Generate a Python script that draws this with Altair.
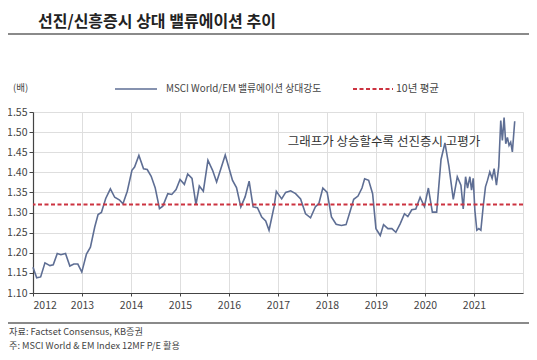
import altair as alt
import pandas as pd

# ---- data ----
years = [
    2012.00, 2012.075, 2012.156, 2012.244, 2012.346, 2012.413, 2012.495, 2012.569, 2012.664, 2012.752,
    2012.833, 2012.915, 2012.996, 2013.091, 2013.172, 2013.260, 2013.328, 2013.396, 2013.484, 2013.579,
    2013.667, 2013.768, 2013.836, 2013.924, 2014.019, 2014.073, 2014.161, 2014.256, 2014.331, 2014.412,
    2014.493, 2014.581, 2014.649, 2014.751, 2014.832, 2014.920, 2015.001, 2015.089, 2015.157, 2015.245,
    2015.326, 2015.394, 2015.476, 2015.570, 2015.665, 2015.747, 2015.834, 2015.923, 2016.004, 2016.072,
    2016.153, 2016.241, 2016.329, 2016.411, 2016.492, 2016.580, 2016.668, 2016.749, 2016.817, 2016.919,
    2016.966, 2017.075, 2017.156, 2017.258, 2017.359, 2017.461, 2017.562, 2017.664, 2017.766, 2017.833,
    2017.915, 2018.003, 2018.091, 2018.186, 2018.294, 2018.389, 2018.477, 2018.545, 2018.633, 2018.714,
    2018.768, 2018.850, 2018.931, 2018.999, 2019.087, 2019.154, 2019.243, 2019.324, 2019.405, 2019.493,
    2019.581, 2019.649, 2019.730, 2019.812, 2019.900, 2019.988, 2020.069, 2020.150, 2020.238, 2020.327,
    2020.407, 2020.489, 2020.577, 2020.659, 2020.733, 2020.780, 2020.828, 2020.868, 2020.916, 2020.950,
    2020.984, 2021.018, 2021.058, 2021.099, 2021.140, 2021.187, 2021.234, 2021.275, 2021.322, 2021.370,
    2021.411, 2021.458, 2021.505, 2021.546, 2021.579, 2021.614, 2021.648, 2021.682, 2021.715, 2021.749,
    2021.783, 2021.831,
]
ratio = [
    1.164, 1.138, 1.140, 1.175, 1.168, 1.170, 1.198, 1.195, 1.198, 1.167,
    1.172, 1.172, 1.152, 1.197, 1.214, 1.264, 1.295, 1.300, 1.335, 1.359,
    1.338, 1.331, 1.322, 1.353, 1.405, 1.413, 1.442, 1.409, 1.407, 1.390,
    1.362, 1.310, 1.316, 1.347, 1.345, 1.357, 1.382, 1.370, 1.396, 1.385,
    1.320, 1.366, 1.353, 1.430, 1.405, 1.376, 1.409, 1.443, 1.409, 1.380,
    1.362, 1.314, 1.339, 1.378, 1.314, 1.312, 1.289, 1.279, 1.256, 1.314,
    1.353, 1.334, 1.350, 1.354, 1.347, 1.334, 1.297, 1.287, 1.315, 1.322,
    1.361, 1.350, 1.289, 1.271, 1.268, 1.270, 1.305, 1.333, 1.341, 1.361,
    1.384, 1.380, 1.347, 1.260, 1.243, 1.270, 1.260, 1.260, 1.251, 1.272,
    1.297, 1.290, 1.307, 1.309, 1.338, 1.315, 1.361, 1.301, 1.301, 1.432,
    1.473, 1.414, 1.333, 1.389, 1.368, 1.309, 1.389, 1.361, 1.389, 1.356,
    1.385, 1.305, 1.256, 1.260, 1.256, 1.314, 1.364, 1.380, 1.401, 1.385,
    1.409, 1.368, 1.414, 1.529, 1.479, 1.536, 1.471, 1.487, 1.467, 1.475,
    1.451, 1.527,
]
avg_10y = [1.32]
x_ticks = [2012, 2013, 2014, 2015, 2016, 2017, 2018, 2019, 2020, 2021]
y_ticks = [1.10, 1.15, 1.20, 1.25, 1.30, 1.35, 1.40, 1.45, 1.50, 1.55]

title_text = "선진/신흥증시 상대 밸류에이션 추이"
unit_text = "(배)"
series_name = "MSCI World/EM 밸류에이션 상대강도"
avg_name = "10년 평균"
note_text = "그래프가 상승할수록 선진증시 고평가"
source_1 = "자료: Factset Consensus, KB증권"
source_2 = "주: MSCI World & EM Index 12MF P/E 활용"

FONT = "Noto Sans CJK KR"
LINE_COLOR = "#5e6e94"
AVG_COLOR = "#cc3340"

df = pd.DataFrame({"year": years, "ratio": ratio})
df_avg = pd.DataFrame({"v": avg_10y})

x_scale = alt.Scale(domain=[2012, 2022], nice=False)
y_scale = alt.Scale(domain=[1.10, 1.55], nice=False, zero=False)

x_enc = alt.X(
    "year:Q", scale=x_scale,
    axis=alt.Axis(values=x_ticks, tickCount=20, format="d", title=None, grid=True,
                  gridColor="#dedede", gridWidth=1, domainColor="#444",
                  domainWidth=1.2, tickColor="#444", tickSize=3,
                  labelFontSize=10.5, labelColor="#444", labelPadding=4,
                  labelFont=FONT),
)
y_enc = alt.Y(
    "ratio:Q", scale=y_scale,
    axis=alt.Axis(values=y_ticks, tickCount=20, format=".2f", title=None, grid=True,
                  gridColor="#dedede", gridWidth=1, domainColor="#444",
                  domainWidth=1.2, tickColor="#444", tickSize=4,
                  labelFontSize=10.5, labelColor="#444", labelPadding=2,
                  labelFont=FONT),
)

line = alt.Chart(df).mark_line(color=LINE_COLOR, strokeWidth=1.6).encode(x=x_enc, y=y_enc)

avg = alt.Chart(df_avg).mark_rule(color=AVG_COLOR, strokeDash=[4, 2.5], strokeWidth=1.8).encode(
    y=alt.Y("v:Q", scale=y_scale)
)


def txt(s, x, y, size=10, color="#333", weight="normal", align="left"):
    return alt.Chart(pd.DataFrame({"t": [s]})).mark_text(
        font=FONT, fontSize=size, color=color, fontWeight=weight, align=align,
        baseline="middle"
    ).encode(x=alt.value(x), y=alt.value(y), text="t:N")


def hrule(x1, x2, y, color, width=1.0, dash=None):
    kw = dict(color=color, strokeWidth=width)
    if dash:
        kw["strokeDash"] = dash
    return alt.Chart(pd.DataFrame({"d": [0]})).mark_rule(**kw).encode(
        x=alt.value(x1), x2=alt.value(x2), y=alt.value(y)
    )


title = txt(title_text, 5, -90, size=16, color="#222", weight="bold")
top_line = hrule(-25, 496, -78, "#8a8a8a", width=2)
unit = txt(unit_text, -20, -24, size=9.5, color="#444")
leg_line = hrule(82, 124, -23, LINE_COLOR, width=1.6)
leg_text = txt(series_name, 133, -23, size=9.8, color="#444")
leg_avg = hrule(320, 360, -23, AVG_COLOR, width=1.8, dash=[4, 2.5])
leg_avg_text = txt(avg_name, 363, -23, size=10.5, color="#444")
note = txt(note_text, 351, 30, size=12.5, color="#333", align="center")
bottom_line = hrule(-25, 496, 211, "#8a8a8a", width=2)
src1 = txt(source_1, -24, 220, size=9.2, color="#444")
src2 = txt(source_2, -24, 234, size=9.2, color="#444")

chart = alt.layer(
    line, avg, title, top_line, unit, leg_line, leg_text, leg_avg, leg_avg_text,
    note, bottom_line, src1, src2,
).properties(
    width=490, height=181,
    autosize=alt.AutoSizeParams(type="none"),
    padding={"left": 25, "top": 104, "right": 6, "bottom": 59},
).configure_view(stroke=None).configure(background="white")

chart.save("out.html", embed_options={"renderer": "svg", "actions": False})
